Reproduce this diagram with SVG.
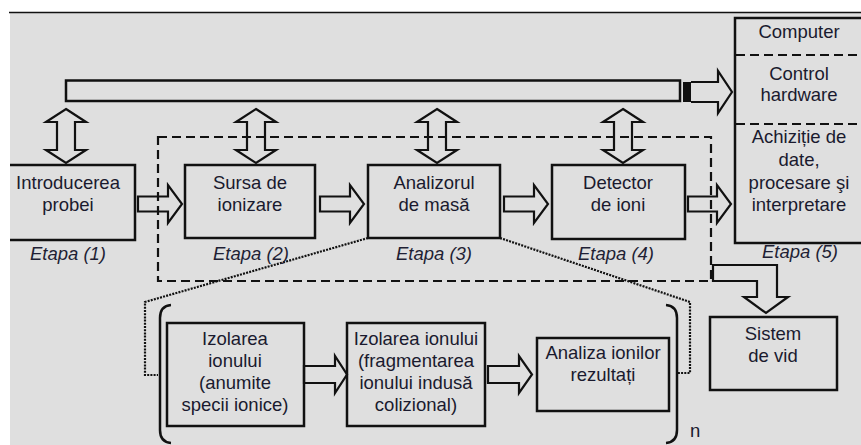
<svg xmlns="http://www.w3.org/2000/svg" width="861" height="445" viewBox="0 0 861 445">
<style>
.bg{fill:#dfdfdf}
.box{fill:none;stroke:#111;stroke-width:2.5}
.arr{fill:none;stroke:#111;stroke-width:2.2;stroke-linejoin:miter}
.dash{fill:none;stroke:#111;stroke-width:2.2;stroke-dasharray:9 5}
.dot{fill:none;stroke:#111;stroke-width:2.2;stroke-dasharray:2 1.2}
.t{font-family:"Liberation Sans",Arial,sans-serif;font-size:18.5px;fill:#1a1a2e;text-anchor:middle}
.e{font-family:"Liberation Sans",Arial,sans-serif;font-size:18.5px;font-style:italic;fill:#1f1f35;text-anchor:middle}
</style>
<rect x="0" y="0" width="861" height="445" fill="#ffffff"/>
<rect class="bg" x="10" y="13" width="851" height="432"/>
<line x1="9" y1="12.5" x2="861" y2="12.5" stroke="#111" stroke-width="1.6"/>

<g id="connectors">
  <!-- bus bar -->
  <rect class="box" x="66" y="80.5" width="614" height="20.5" stroke-width="2.2"/>
  <rect x="683" y="82" width="8" height="20" fill="#111"/>
  <path class="arr" d="M691,82 H718 V71 L732,92 L718,113 V102 H691"/>
  <!-- bidirectional arrows -->
  <path class="arr" d="M66,109 L86,122 H75 V150 H86 L66,163 L46,150 H57 V122 H46 Z"/>
  <path class="arr" d="M256,109 L276,122 H265 V150 H276 L256,163 L236,150 H247 V122 H236 Z"/>
  <path class="arr" d="M437,109 L457,122 H446 V150 H457 L437,163 L417,150 H428 V122 H417 Z"/>
  <path class="arr" d="M623,109 L643,122 H632 V150 H643 L623,163 L603,150 H614 V122 H603 Z"/>
  <!-- horizontal block arrows top row -->
  <path class="arr" d="M138,196.5 H168 V185 L182,204 L168,223 V211.5 H138 Z"/>
  <path class="arr" d="M320,196.5 H350 V185 L364,204 L350,223 V211.5 H320 Z"/>
  <path class="arr" d="M504,196.5 H534 V185 L548,204 L534,223 V211.5 H504 Z"/>
  <path class="arr" d="M688,196.5 H717 V185 L731,204 L717,223 V211.5 H688 Z"/>
  <!-- dashed enclosure -->
  <rect class="dash" x="158" y="137" width="553" height="144"/>
  <!-- L arrow to vacuum system -->
  <path class="arr" d="M713,265 H777 V297 H788 L766,313 L744,297 H757 V281 H713 Z"/>
  <!-- bottom row arrows -->
  <path class="arr" d="M304,366 H335 V356 L347,374.5 L335,393 V383 H304 Z"/>
  <path class="arr" d="M488,366 H519 V356 L532,374.5 L519,393 V383 H488 Z"/>
  <!-- dotted zoom lines -->
  <path class="dot" d="M368,238 L145,302 V375 H158"/>
  <path class="dot" d="M500,238 L690,302 V373 H678"/>
  <!-- brackets -->
  <path class="box" d="M171,305 Q160,306 160,318 V430 Q160,442 171,443"/>
  <path class="box" d="M666,305 Q677,306 677,318 V430 Q677,442 666,443"/>
</g>

<g id="introducerea">
  <path class="box" d="M10,165 H135 V240 H10"/>
  <text class="t" x="68" y="189">Introducerea</text>
  <text class="t" x="68" y="211">probei</text>
  <text class="e" x="68" y="260">Etapa (1)</text>
</g>
<g id="sursa">
  <rect class="box" x="185" y="165" width="130" height="73"/>
  <text class="t" x="250" y="189">Sursa de</text>
  <text class="t" x="250" y="211">ionizare</text>
  <text class="e" x="251" y="260">Etapa (2)</text>
</g>
<g id="analizor">
  <rect class="box" x="368" y="165" width="132" height="73"/>
  <text class="t" x="434" y="189">Analizorul</text>
  <text class="t" x="434" y="211">de masă</text>
  <text class="e" x="434" y="260">Etapa (3)</text>
</g>
<g id="detector">
  <rect class="box" x="552" y="165" width="133" height="74"/>
  <text class="t" x="618" y="189">Detector</text>
  <text class="t" x="618" y="211">de ioni</text>
  <text class="e" x="616" y="260">Etapa (4)</text>
</g>
<g id="computer">
  <rect class="box" x="735" y="18" width="140" height="225"/>
  <line class="dash" x1="736" y1="55" x2="861" y2="55"/>
  <line class="dash" x1="736" y1="124" x2="861" y2="124"/>
  <text class="t" x="799" y="38">Computer</text>
  <text class="t" x="799" y="80">Control</text>
  <text class="t" x="799" y="101">hardware</text>
  <text class="t" x="799" y="143">Achiziție de</text>
  <text class="t" x="799" y="166">date,</text>
  <text class="t" x="799" y="189">procesare şi</text>
  <text class="t" x="799" y="211">interpretare</text>
  <text class="e" x="800" y="258">Etapa (5)</text>
</g>
<g id="vid">
  <rect class="box" x="710" y="317" width="127" height="73"/>
  <text class="t" x="773" y="340">Sistem</text>
  <text class="t" x="773" y="362">de vid</text>
</g>
<g id="izolarea">
  <rect class="box" x="167" y="323" width="137" height="103"/>
  <text class="t" x="235" y="345">Izolarea</text>
  <text class="t" x="235" y="367">ionului</text>
  <text class="t" x="235" y="389">(anumite</text>
  <text class="t" x="235" y="411">specii ionice)</text>
</g>
<g id="fragmentare">
  <rect class="box" x="347" y="323" width="138" height="103"/>
  <text class="t" x="416" y="345">Izolarea ionului</text>
  <text class="t" x="416" y="367">(fragmentarea</text>
  <text class="t" x="416" y="389">ionului indusă</text>
  <text class="t" x="416" y="411">colizional)</text>
</g>
<g id="analiza">
  <rect class="box" x="537" y="338" width="132" height="73"/>
  <text class="t" x="603" y="359">Analiza ionilor</text>
  <text class="t" x="603" y="381">rezultați</text>
</g>
<g id="n-label">
  <text class="t" x="690" y="437" style="text-anchor:start">n</text>
</g>
</svg>
